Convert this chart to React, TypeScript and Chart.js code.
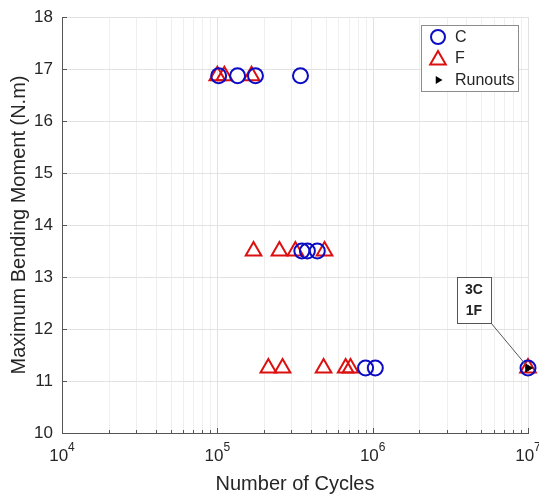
import React, { useEffect, useRef } from 'react';
import { Chart, registerables } from 'chart.js';

Chart.register(...registerables);

// ---- data ----
const cCycles = [1.02e5, 1.35e5, 1.76e5, 3.43e5, 3.5e5, 3.8e5, 4.4e5, 9.0e5, 1.04e6, 1e7];
const cMoment = [16.87, 16.87, 16.87, 16.87, 13.5, 13.5, 13.5, 11.25, 11.25, 11.25];
const fCycles = [1.0e5, 1.11e5, 1.66e5, 1.71e5, 2.51e5, 3.18e5, 4.9e5, 2.13e5, 2.63e5, 4.83e5, 6.7e5, 7.2e5, 1e7];
const fMoment = [16.87, 16.87, 16.87, 13.5, 13.5, 13.5, 13.5, 11.25, 11.25, 11.25, 11.25, 11.25, 11.25];
const runoutCycles = [1e7];
const runoutMoment = [11.25];
const runoutNote = ['3C', '1F'];
const seriesNames = ['C', 'F', 'Runouts'];
const xExponents = [4, 5, 6, 7];
const yMin = 10;
const yMax = 18;
const xTitle = 'Number of Cycles';
const yTitle = 'Maximum Bending Moment (N.m)';

const FONT = '"Liberation Sans", Arial, Helvetica, sans-serif';
const BLUE = '#0c0cc4';
const RED = '#dc1010';
const TXT = '#262626';

function tri(ctx: CanvasRenderingContext2D, x: number, y: number, r: number, rotDeg: number) {
  let rad = (rotDeg * Math.PI) / 180;
  ctx.beginPath();
  ctx.moveTo(x + Math.sin(rad) * r, y - Math.cos(rad) * r);
  rad += (2 * Math.PI) / 3;
  ctx.lineTo(x + Math.sin(rad) * r, y - Math.cos(rad) * r);
  rad += (2 * Math.PI) / 3;
  ctx.lineTo(x + Math.sin(rad) * r, y - Math.cos(rad) * r);
  ctx.closePath();
}

const decor = {
  id: 'decor',
  beforeDatasetsDraw(chart: any) {
    const { ctx, chartArea: a, scales } = chart;
    const x = scales.x;
    const y = scales.y;
    ctx.save();
    const vline = (px: number, y0: number, y1: number, c: string) => {
      const p = Math.round(px) + 0.5;
      ctx.strokeStyle = c;
      ctx.lineWidth = 1;
      ctx.beginPath();
      ctx.moveTo(p, y0);
      ctx.lineTo(p, y1);
      ctx.stroke();
    };
    const hline = (py: number, x0: number, x1: number, c: string) => {
      const p = Math.round(py) + 0.5;
      ctx.strokeStyle = c;
      ctx.lineWidth = 1;
      ctx.beginPath();
      ctx.moveTo(x0, p);
      ctx.lineTo(x1, p);
      ctx.stroke();
    };
    // minor x grid
    for (let i = 0; i < xExponents.length - 1; i++) {
      for (let m = 2; m <= 9; m++) {
        vline(x.getPixelForValue(m * Math.pow(10, xExponents[i])), a.top, a.bottom, '#efefef');
      }
    }
    // major x grid
    xExponents.forEach((e) => vline(x.getPixelForValue(Math.pow(10, e)), a.top, a.bottom, '#e2e2e2'));
    // y grid
    for (let v = yMin; v <= yMax; v++) hline(y.getPixelForValue(v), a.left, a.right, '#e2e2e2');
    // axes
    vline(a.left, a.top, a.bottom + 1, '#555555');
    hline(a.bottom, a.left, a.right + 1, '#555555');
    // ticks
    for (let v = yMin; v <= yMax; v++) {
      const py = Math.round(y.getPixelForValue(v)) + 0.5;
      ctx.strokeStyle = '#555555';
      ctx.beginPath();
      ctx.moveTo(a.left, py);
      ctx.lineTo(a.left + 5, py);
      ctx.stroke();
    }
    for (let i = 0; i < xExponents.length; i++) {
      vline(x.getPixelForValue(Math.pow(10, xExponents[i])), a.bottom - 5, a.bottom, '#555555');
      if (i < xExponents.length - 1) {
        for (let m = 2; m <= 9; m++) {
          vline(x.getPixelForValue(m * Math.pow(10, xExponents[i])), a.bottom - 3, a.bottom, '#555555');
        }
      }
    }
    // x tick labels with superscripts
    ctx.fillStyle = TXT;
    ctx.textBaseline = 'middle';
    ctx.textAlign = 'left';
    xExponents.forEach((e) => {
      const px = x.getPixelForValue(Math.pow(10, e));
      ctx.font = `17px ${FONT}`;
      const wb = ctx.measureText('10').width;
      ctx.font = `12px ${FONT}`;
      const we = ctx.measureText(String(e)).width;
      const start = px - (wb + we) / 2;
      ctx.font = `17px ${FONT}`;
      ctx.fillText('10', start, a.bottom + 23);
      ctx.font = `12px ${FONT}`;
      ctx.fillText(String(e), start + wb, a.bottom + 15);
    });
    ctx.restore();
  },
  afterDatasetsDraw(chart: any) {
    const { ctx, chartArea: a, scales } = chart;
    const x = scales.x;
    const y = scales.y;
    ctx.save();
    // annotation
    const px = x.getPixelForValue(runoutCycles[0]);
    const py = y.getPixelForValue(runoutMoment[0]);
    const bx1 = px - 37;
    const by1 = py - 45;
    const bw = 34;
    const bh = 46;
    ctx.strokeStyle = '#555555';
    ctx.lineWidth = 1;
    ctx.beginPath();
    ctx.moveTo(bx1, by1);
    ctx.lineTo(px - 2, py - 3);
    ctx.stroke();
    ctx.fillStyle = '#ffffff';
    ctx.fillRect(bx1 - bw, by1 - bh, bw, bh);
    ctx.strokeRect(Math.round(bx1 - bw) + 0.5, Math.round(by1 - bh) + 0.5, bw, bh);
    ctx.fillStyle = '#222222';
    ctx.font = `bold 14px ${FONT}`;
    ctx.textAlign = 'center';
    ctx.textBaseline = 'middle';
    runoutNote.forEach((t, i) => ctx.fillText(t, bx1 - bw / 2, by1 - bh + 13 + i * 21));

    // legend
    const lw = 97;
    const lh = 66;
    const lx = a.right - 10 - lw;
    const ly = a.top + 8;
    ctx.fillStyle = '#ffffff';
    ctx.fillRect(lx, ly, lw, lh);
    ctx.strokeStyle = '#8c8c8c';
    ctx.strokeRect(Math.round(lx) + 0.5, Math.round(ly) + 0.5, lw, lh);
    const mx = lx + 17;
    const rows = [ly + 12, ly + 33, ly + 55];
    ctx.lineWidth = 2;
    ctx.strokeStyle = BLUE;
    ctx.beginPath();
    ctx.arc(mx, rows[0], 7, 0, Math.PI * 2);
    ctx.stroke();
    ctx.strokeStyle = RED;
    tri(ctx, mx, rows[1] + 2, 9, 0);
    ctx.stroke();
    ctx.fillStyle = '#000000';
    tri(ctx, mx, rows[2], 4.5, 90);
    ctx.fill();
    ctx.fillStyle = TXT;
    ctx.font = `16px ${FONT}`;
    ctx.textAlign = 'left';
    ctx.textBaseline = 'middle';
    seriesNames.forEach((n, i) => ctx.fillText(n, lx + 34, rows[i] + 1));
    ctx.restore();
  },
};

export default function App() {
  const ref = useRef<HTMLCanvasElement | null>(null);
  useEffect(() => {
    if (!ref.current) return;
    const chart = new Chart(ref.current, {
      type: 'scatter',
      data: {
        datasets: [
          {
            label: seriesNames[2],
            data: runoutCycles.map((v, i) => ({ x: v, y: runoutMoment[i] })),
            pointStyle: 'triangle',
            rotation: 90,
            radius: 4.5,
            backgroundColor: '#000000',
            borderColor: '#000000',
            borderWidth: 1,
            clip: false,
          },
          {
            label: seriesNames[0],
            data: cCycles.map((v, i) => ({ x: v, y: cMoment[i] })),
            pointStyle: 'circle',
            radius: 7.5,
            backgroundColor: 'rgba(0,0,0,0)',
            borderColor: BLUE,
            borderWidth: 2,
            clip: false,
          },
          {
            label: seriesNames[1],
            data: fCycles.map((v, i) => ({ x: v, y: fMoment[i] })),
            pointStyle: 'triangle',
            radius: 9,
            backgroundColor: 'rgba(0,0,0,0)',
            borderColor: RED,
            borderWidth: 2,
            clip: false,
          },
        ],
      } as any,
      options: {
        animation: false,
        responsive: false,
        events: [],
        layout: { padding: { top: 17, right: 11, left: 0, bottom: 0 } },
        plugins: { legend: { display: false }, tooltip: { enabled: false } },
        scales: {
          x: {
            type: 'logarithmic',
            min: 1e4,
            max: 1e7,
            ticks: { display: false },
            grid: { display: false },
            border: { display: false },
            title: {
              display: true,
              text: xTitle,
              color: TXT,
              font: { family: FONT, size: 20, lineHeight: 1 },
              padding: { top: 0, bottom: 0 },
            },
            afterFit: (s: any) => {
              s.height = 61;
            },
          },
          y: {
            type: 'linear',
            min: yMin,
            max: yMax,
            ticks: { stepSize: 1, color: TXT, font: { family: FONT, size: 17 }, padding: 1 },
            grid: { display: false },
            border: { display: false },
            title: {
              display: true,
              text: yTitle,
              color: TXT,
              font: { family: FONT, size: 20, lineHeight: 1 },
              padding: { top: 9, bottom: 0 },
            },
            afterFit: (s: any) => {
              s.width = 62;
            },
          },
        },
      } as any,
      plugins: [decor],
    });
    return () => chart.destroy();
  }, []);
  return (
    <div style={{ position: 'absolute', left: 0, top: 0, width: 539, height: 494, background: '#ffffff' }}>
      <canvas ref={ref} width={539} height={494} style={{ display: 'block' }} />
    </div>
  );
}
